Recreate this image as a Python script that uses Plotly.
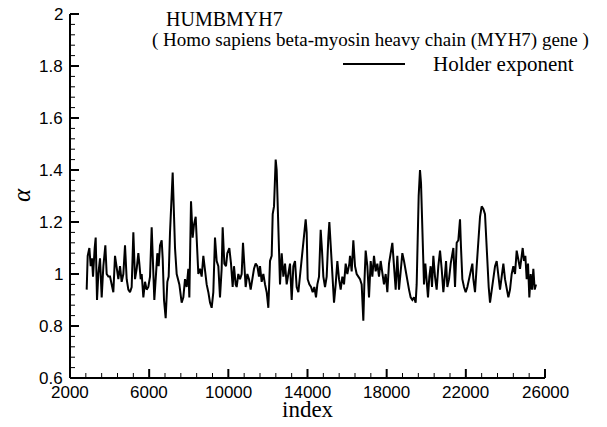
import plotly.graph_objects as go

# ---- data ----
index_vals = [
    2843, 2894, 2978, 3045, 3112, 3163, 3247, 3298, 3365, 3432, 3517, 3601, 3685, 3786, 3853, 3938,
    4022, 4123, 4190, 4274, 4359, 4443, 4527, 4611, 4695, 4780, 4864, 4948, 5032, 5116, 5201, 5285,
    5369, 5453, 5504, 5571, 5622, 5706, 5790, 5874, 5958, 6043, 6127, 6211, 6261, 6346, 6413, 6480,
    6548, 6632, 6683, 6750, 6834, 6918, 6985, 7053,
    7188, 7306, 7390, 7525, 7642, 7727, 7811, 7895, 7979, 8030, 8114, 8198, 8265, 8350, 8400, 8484,
    8569, 8653, 8737, 8821, 8905, 8990, 9074, 9158, 9242, 9326, 9411, 9495, 9579, 9663, 9714, 9798,
    9882, 9949, 10050, 10135, 10219, 10286, 10370, 10421, 10505, 10589, 10674, 10741, 10808, 10876,
    10960, 11044, 11128, 11212, 11297, 11381, 11465, 11549,
    11601, 11685, 11769, 11854, 11938, 12022, 12106, 12190, 12241, 12308, 12392, 12443, 12493, 12544,
    12611, 12696, 12780, 12864, 12948, 13032, 13117, 13201, 13285, 13369, 13453, 13538, 13622, 13706,
    13757, 13841, 13908, 13959, 14009, 14093, 14178, 14262, 14346, 14430, 14498, 14582, 14666, 14733,
    14801, 14885, 14969, 15053, 15104, 15188, 15272, 15340, 15424, 15508, 15592, 15676, 15761, 15845,
    15929, 16013, 16114,
    16148, 16232, 16316, 16401, 16485, 16569, 16653, 16737, 16821, 16872, 16939, 17024, 17108, 17192,
    17276, 17360, 17445, 17529, 17613, 17697, 17781, 17865, 17950, 18034, 18118, 18202, 18287, 18371,
    18455, 18539, 18623, 18708, 18792, 18876, 18960, 19044, 19129, 19213, 19297, 19381, 19465, 19516,
    19567, 19617, 19684, 19735, 19786, 19836, 19886, 19954, 20021, 20088, 20156, 20223, 20291, 20358,
    20442, 20526, 20611,
    20696, 20780, 20864, 20949, 21000, 21066, 21151, 21235, 21319, 21370, 21454, 21538, 21622, 21706,
    21757, 21824, 21908, 21993, 22077, 22161, 22245, 22330, 22380, 22464, 22548, 22633, 22717, 22801,
    22885, 22969, 23020, 23087, 23155, 23222, 23306, 23390, 23475, 23559, 23643, 23727, 23811, 23896,
    23980, 24064, 24148, 24232, 24317, 24401, 24485, 24569, 24654, 24738, 24822, 24873, 24940, 25007,
    25075, 25142, 25209, 25277, 25344, 25411, 25479, 25546,
]
alpha_vals = [
    0.94, 1.07, 1.10, 1.03, 1.06, 0.99, 1.10, 1.14, 0.90, 1.00, 1.06, 0.91, 1.03, 1.11, 1.00, 0.99,
    0.99, 0.95, 0.93, 1.07, 1.03, 0.98, 1.03, 0.97, 1.00, 1.11, 0.98, 0.94, 0.93, 0.95, 1.16, 0.98,
    1.02, 1.08, 1.04, 0.98, 1.00, 0.91, 0.97, 0.94, 0.95, 0.99, 1.18, 0.98, 0.90, 1.00, 1.08, 1.03,
    1.11, 1.13, 1.06, 0.90, 0.83, 0.97, 0.99, 1.16,
    1.39, 1.10, 1.00, 0.96, 0.89, 0.91, 0.98, 0.95, 1.02, 0.91, 1.28, 1.14, 1.19, 1.22, 1.13, 1.00,
    1.02, 0.99, 1.07, 1.00, 0.96, 0.93, 0.89, 0.87, 0.93, 1.14, 1.05, 1.03, 0.91, 1.02, 1.18, 1.04,
    1.03, 1.08, 1.10, 1.04, 0.95, 1.03, 0.96, 0.95, 1.00, 0.98, 1.00, 1.12, 1.04, 0.95,
    1.00, 0.98, 0.94, 0.98, 1.02, 1.04, 1.03, 0.99,
    1.03, 0.97, 1.00, 0.96, 0.93, 0.87, 1.05, 1.07, 1.23, 1.26, 1.44, 1.40, 1.28, 1.09,
    0.96, 1.08, 0.99, 1.04, 0.96, 1.00, 1.04, 0.90, 1.03, 1.05, 0.95, 0.93, 1.00, 1.04,
    1.10, 1.17, 1.21, 1.16, 0.98, 0.96, 0.95, 0.93, 0.95, 0.91, 0.96, 0.99, 1.17, 1.09,
    0.99, 0.95, 0.99, 1.14, 1.20, 1.09, 0.96, 0.89, 0.96, 1.05, 0.98, 0.94, 0.99, 0.96,
    1.04, 1.00, 1.04,
    1.07, 1.01, 1.13, 1.03, 1.00, 0.99, 0.98, 0.96, 0.82, 0.96, 1.09, 1.03, 0.91, 1.05,
    0.99, 1.07, 1.01, 1.04, 0.99, 1.05, 1.00, 0.96, 1.00, 0.93, 1.04, 1.09, 1.12, 1.03,
    0.94, 1.07, 0.94, 1.01, 1.08, 1.05, 1.01, 0.98, 0.94, 0.91, 0.90, 0.91, 0.89, 0.96,
    1.16, 1.30, 1.40, 1.35, 1.22, 1.05, 0.96, 1.04, 0.96, 0.91, 0.99, 1.03, 0.95, 1.07,
    0.99, 0.94, 1.03,
    1.09, 1.02, 0.93, 1.00, 1.05, 0.95, 0.98, 1.04, 1.08, 1.10, 0.95, 1.12, 1.13, 1.21,
    1.10, 0.98, 0.95, 0.93, 0.95, 0.98, 1.00, 1.04, 0.98, 0.93, 1.03, 1.12, 1.22, 1.26,
    1.25, 1.23, 1.14, 1.08, 0.95, 0.89, 0.94, 0.98, 1.03, 1.05, 0.98, 0.94, 0.99, 1.04,
    0.98, 0.95, 0.91, 0.94, 1.00, 1.03, 1.00, 1.09, 1.05, 1.02, 1.07, 1.10, 1.05, 1.07,
    0.98, 1.04, 0.91, 1.00, 0.94, 1.02, 0.94, 0.96,
]
x_major_ticks = [2000, 6000, 10000, 14000, 18000, 22000, 26000]
x_minor_ticks = [2800, 3600, 4400, 5200, 6800, 7600, 8400, 9200, 10800, 11600, 12400, 13200,
                 14800, 15600, 16400, 17200, 18800, 19600, 20400, 21200, 22800, 23600, 24400, 25200]
y_major_ticks = [0.6, 0.8, 1.0, 1.2, 1.4, 1.6, 1.8, 2.0]
y_minor_ticks = [0.64, 0.68, 0.72, 0.76, 0.84, 0.88, 0.92, 0.96, 1.04, 1.08, 1.12, 1.16,
                 1.24, 1.28, 1.32, 1.36, 1.44, 1.48, 1.52, 1.56, 1.64, 1.68, 1.72, 1.76,
                 1.84, 1.88, 1.92, 1.96]
x_tick_text = ["2000", "6000", "10000", "14000", "18000", "22000", "26000"]
y_tick_text = ["0.6", "0.8", "1", "1.2", "1.4", "1.6", "1.8", "2"]
x_title = "index"
y_title = "<i>α</i>"
series_name = "Holder exponent"
title_line1 = "HUMBMYH7"
title_line2 = "( Homo sapiens beta-myosin heavy chain (MYH7) gene )"

SERIF = "Liberation Serif"
SANS = "Liberation Sans"

# ---- frame geometry (pixels) ----
W, H = 607, 427
FL, FR, FT, FB = 70, 545, 14, 378        # frame left/right/top/bottom in pixels
X0, X1 = x_major_ticks[0], x_major_ticks[-1]
Y0, Y1 = y_major_ticks[0], y_major_ticks[-1]
XU = (X1 - X0) / (FR - FL)   # data units per pixel
YU = (Y1 - Y0) / (FB - FT)
MAJ, MIN = 9, 5

# the plotting area fills the whole page; the ranges put the frame where it belongs
x_range = [X0 - FL * XU, X0 + (W - FL) * XU]
y_range = [Y0 - (H - FB) * YU, Y0 + FB * YU]

fig = go.Figure()
fig.add_trace(go.Scatter(
    x=index_vals, y=alpha_vals, mode="lines",
    line=dict(color="black", width=2), name=series_name, showlegend=False,
))


def seg_trace(xs, ys, width):
    return go.Scatter(x=xs, y=ys, mode="lines", line=dict(color="black", width=width),
                      showlegend=False, hoverinfo="skip")


# axis lines (left and bottom)
fig.add_trace(seg_trace([X0, X1, None, X0, X0], [Y0, Y0, None, Y0, Y1], 2))
# major ticks (inside)
mx, my = [], []
for v in x_major_ticks:
    mx += [v, v, None]; my += [Y0, Y0 + MAJ * YU, None]
for v in y_major_ticks:
    mx += [X0, X0 + MAJ * XU, None]; my += [v, v, None]
fig.add_trace(seg_trace(mx, my, 2))
# minor ticks (inside)
nx, ny = [], []
for v in x_minor_ticks:
    nx += [v, v, None]; ny += [Y0, Y0 + MIN * YU, None]
for v in y_minor_ticks:
    nx += [X0, X0 + MIN * XU, None]; ny += [v, v, None]
fig.add_trace(seg_trace(nx, ny, 1))

annotations = []
tick_font = dict(family=SANS, size=17, color="black")
for v, t in zip(x_major_ticks, x_tick_text):
    annotations.append(dict(text=t, x=v, y=Y0, xref="x", yref="y", xanchor="center", yanchor="top",
                            yshift=-4, showarrow=False, borderpad=0, font=tick_font))
for v, t in zip(y_major_ticks, y_tick_text):
    annotations.append(dict(text=t, x=X0, y=v, xref="x", yref="y", xanchor="right", yanchor="middle",
                            xshift=-6, showarrow=False, borderpad=0, font=tick_font))
annotations += [
    dict(text=x_title, x=(X0 + X1) / 2, y=Y0, xref="x", yref="y", xanchor="center", yanchor="middle",
         yshift=-31, showarrow=False, borderpad=0, font=dict(family=SERIF, size=23, color="black")),
    dict(text=y_title, x=22 / W, y=(H - 195) / H, xref="paper", yref="paper", xanchor="center",
         yanchor="middle", textangle=-90, showarrow=False, borderpad=0,
         font=dict(family=SERIF, size=25, color="black")),
    dict(text=title_line1, x=165 / W, y=(H - 19) / H, xref="paper", yref="paper", xanchor="left",
         yanchor="middle", showarrow=False, borderpad=0, font=dict(family=SERIF, size=20, color="black")),
    dict(text=title_line2, x=151 / W, y=(H - 40) / H, xref="paper", yref="paper", xanchor="left",
         yanchor="middle", showarrow=False, borderpad=0, font=dict(family=SERIF, size=19, color="black")),
    dict(text=series_name, x=432 / W, y=(H - 64) / H, xref="paper", yref="paper", xanchor="left",
         yanchor="middle", showarrow=False, borderpad=0, font=dict(family=SERIF, size=21, color="black")),
]

fig.update_layout(
    width=W, height=H,
    margin=dict(l=0, r=0, t=0, b=0, autoexpand=False),
    paper_bgcolor="white", plot_bgcolor="white",
    xaxis=dict(range=x_range, visible=False, showgrid=False, zeroline=False),
    yaxis=dict(range=y_range, visible=False, showgrid=False, zeroline=False),
    annotations=annotations,
    shapes=[
        dict(type="line", xref="paper", yref="paper", x0=343 / W, x1=405 / W,
             y0=(H - 64) / H, y1=(H - 64) / H, line=dict(color="black", width=2)),
    ],
)

fig.write_html("out.html", config={"staticPlot": True})
